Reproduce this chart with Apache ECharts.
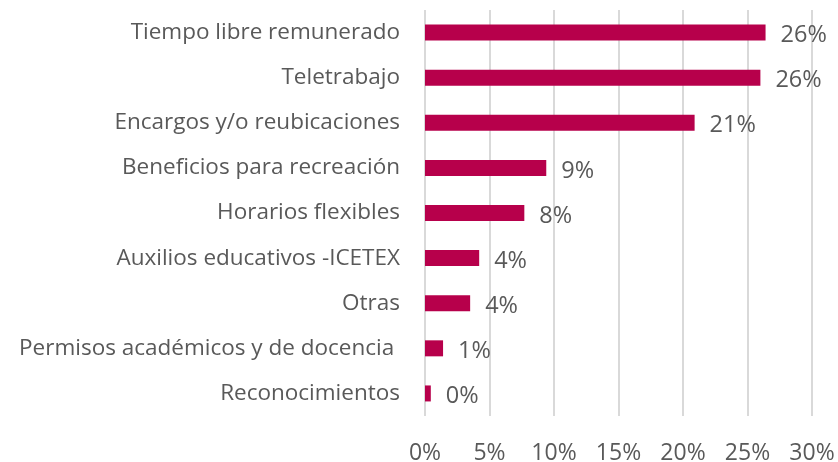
<!DOCTYPE html>
<html>
<head>
<meta charset="utf-8">
<script src="https://cdn.jsdelivr.net/npm/echarts@6/dist/echarts.min.js"></script>
<style>
  html, body { margin: 0; padding: 0; background: #fff; }
  #chart { width: 838px; height: 462px; }
</style>
</head>
<body>
<div id="chart"></div>
<script>
const categories = [
  "Tiempo libre remunerado",
  "Teletrabajo",
  "Encargos y/o reubicaciones",
  "Beneficios para recreación",
  "Horarios flexibles",
  "Auxilios educativos -ICETEX",
  "Otras",
  "Permisos académicos y de docencia ",
  "Reconocimientos",
];
const shares = [26.4, 26.0, 20.9, 9.4, 7.7, 4.2, 3.5, 1.4, 0.45];
const xTicks = { min: 0, max: 30, step: 5 };

const textColor = "#595959";
const fontFamily = "'Open Sans', 'Noto Sans', sans-serif";

const chart = echarts.init(document.querySelector("#chart"));
chart.setOption({
  animation: false,
  grid: { left: 425, right: 26, top: 10, bottom: 46, containLabel: false, outerBoundsMode: "none" },
  xAxis: {
    type: "value",
    min: xTicks.min,
    max: xTicks.max,
    interval: xTicks.step,
    axisLine: { show: false },
    axisTick: { show: false },
    splitLine: { show: true, lineStyle: { color: "#d9d9d9", width: 2 } },
    axisLabel: {
      color: textColor,
      fontSize: 23,
      fontFamily,
      margin: 26,
      formatter: (value) => `${value}%`,
    },
  },
  yAxis: {
    type: "category",
    data: categories,
    inverse: true,
    axisLine: { show: false },
    axisTick: { show: false },
    axisLabel: { color: textColor, fontSize: 22.5, fontFamily, margin: 25, padding: [4, 0, 0, 0] },
  },
  series: [
    {
      type: "bar",
      data: shares,
      barWidth: 16,
      itemStyle: { color: "#b7004b" },
      label: {
        show: true,
        position: "right",
        distance: 15,
        color: textColor,
        fontSize: 23.5,
        fontFamily,
        offset: [0, 3],
        formatter: (p) => `${Math.round(p.value)}%`,
      },
    },
  ],
});
</script>
</body>
</html>
